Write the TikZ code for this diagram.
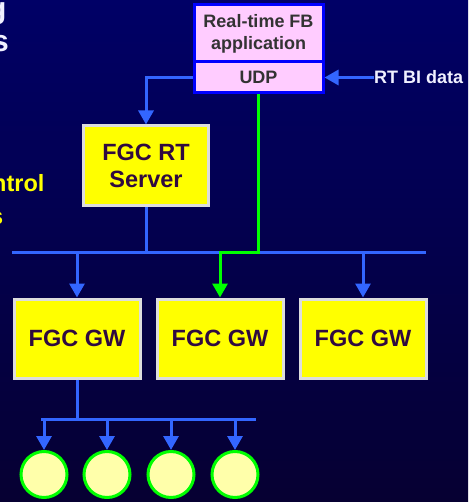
\documentclass[tikz,border=0pt]{standalone}
\usepackage{fontspec}
\setmainfont{Liberation Sans}
\usetikzlibrary{arrows.meta}
\definecolor{bgtop}{RGB}{0,0,102}
\definecolor{bgbot}{RGB}{6,0,50}
\definecolor{lineblue}{RGB}{51,102,255}
\definecolor{linegreen}{RGB}{0,255,0}
\definecolor{boxyellow}{RGB}{255,255,0}
\definecolor{boxgray}{RGB}{221,221,221}
\definecolor{boxtext}{RGB}{48,10,64}
\definecolor{pinkfill}{RGB}{255,204,255}
\definecolor{pinkborder}{RGB}{0,0,255}
\definecolor{pinktext}{RGB}{51,51,51}
\definecolor{circfill}{RGB}{255,255,170}
\definecolor{titlewhite}{RGB}{240,240,255}
\begin{document}
\begin{tikzpicture}[x=1pt,y=-1pt,
  yellowbox/.style={draw=boxgray,fill=boxyellow,line width=3pt,inner sep=0pt,
    text=boxtext,font=\fontsize{23.5}{27}\selectfont\bfseries,align=center},
  pinkbox/.style={draw=pinkborder,fill=pinkfill,line width=3pt,inner sep=0pt,
    text=pinktext,font=\fontsize{18}{22}\selectfont\bfseries,align=center,minimum width=129pt},
  bluewire/.style={draw=lineblue,line width=3pt},
  greenwire/.style={draw=linegreen,line width=3pt},
  tip/.style={-{Triangle[width=15pt,length=14pt]}},
  leaf/.style={circle,draw=linegreen,fill=circfill,line width=3pt,minimum size=46pt,inner sep=0pt}]
\shade[top color=bgtop,bottom color=bgbot] (0,0) rectangle (468,502);
\useasboundingbox (0,0) rectangle (468,502);
% clipped slide text at the left edge
\node[anchor=base west,inner sep=0pt,text=titlewhite,font=\fontsize{30}{33}\selectfont\bfseries] (tg) at (-12,19) {g};
\node[anchor=base west,inner sep=0pt,text=titlewhite,font=\fontsize{30}{33}\selectfont\bfseries] (ts) at (-8,52) {s};
\node[anchor=base west,inner sep=0pt,text=boxyellow,font=\fontsize{23.5}{27}\selectfont\bfseries] (yn) at (-8,192) {ntrol};
\node[anchor=base west,inner sep=0pt,text=boxyellow,font=\fontsize{23.5}{27}\selectfont\bfseries] (ys) at (-10,225) {s};
% nodes
\node[pinkbox,minimum height=57pt] (app) at (258.5,33.5) {Real-time FB\\application};
\node[pinkbox,minimum height=31pt] (udp) at (258.5,77.5) {UDP};
\node[anchor=west,inner sep=0pt,text=titlewhite,font=\fontsize{18}{22}\selectfont\bfseries] (rtbi) at (374,77.5) {RT BI data};
\node[yellowbox,minimum width=125pt,minimum height=80pt] (srv) at (146,166) {FGC RT\\Server};
\node[yellowbox,minimum width=126pt,minimum height=79pt] (gw1) at (77,338.5) {FGC GW};
\node[yellowbox,minimum width=126pt,minimum height=79pt] (gw2) at (220,338.5) {FGC GW};
\node[yellowbox,minimum width=126pt,minimum height=79pt] (gw3) at (363,338.5) {FGC GW};
\node[leaf] (c1) at (44,474.5) {};
\node[leaf] (c2) at (107,474.5) {};
\node[leaf] (c3) at (171,474.5) {};
\node[leaf] (c4) at (235,474.5) {};
\coordinate (busL) at (12,252);
\coordinate (busR) at (426,252);
\coordinate (subL) at (41,419);
\coordinate (subR) at (256,419);
% connectors
\draw[bluewire,tip] (rtbi.west) -- (udp.east);
\draw[bluewire,tip] (udp.west) -| (srv.north);
\draw[bluewire] (busL) -- (busR);
\draw[bluewire] (srv.south) -- (srv.south |- busL);
\draw[bluewire,tip] (gw1.north |- busL) -- (gw1.north);
\draw[bluewire,tip] (gw3.north |- busL) -- (gw3.north);
\draw[greenwire,tip] (udp.south) -- (udp.south |- busL) -- (gw2.north |- busL) -- (gw2.north);
\draw[bluewire] (gw1.south) -- (gw1.south |- subL);
\draw[bluewire] (subL) -- (subR);
\draw[bluewire,tip] (c1.north |- subL) -- (c1.north);
\draw[bluewire,tip] (c2.north |- subL) -- (c2.north);
\draw[bluewire,tip] (c3.north |- subL) -- (c3.north);
\draw[bluewire,tip] (c4.north |- subL) -- (c4.north);
\end{tikzpicture}
\end{document}
